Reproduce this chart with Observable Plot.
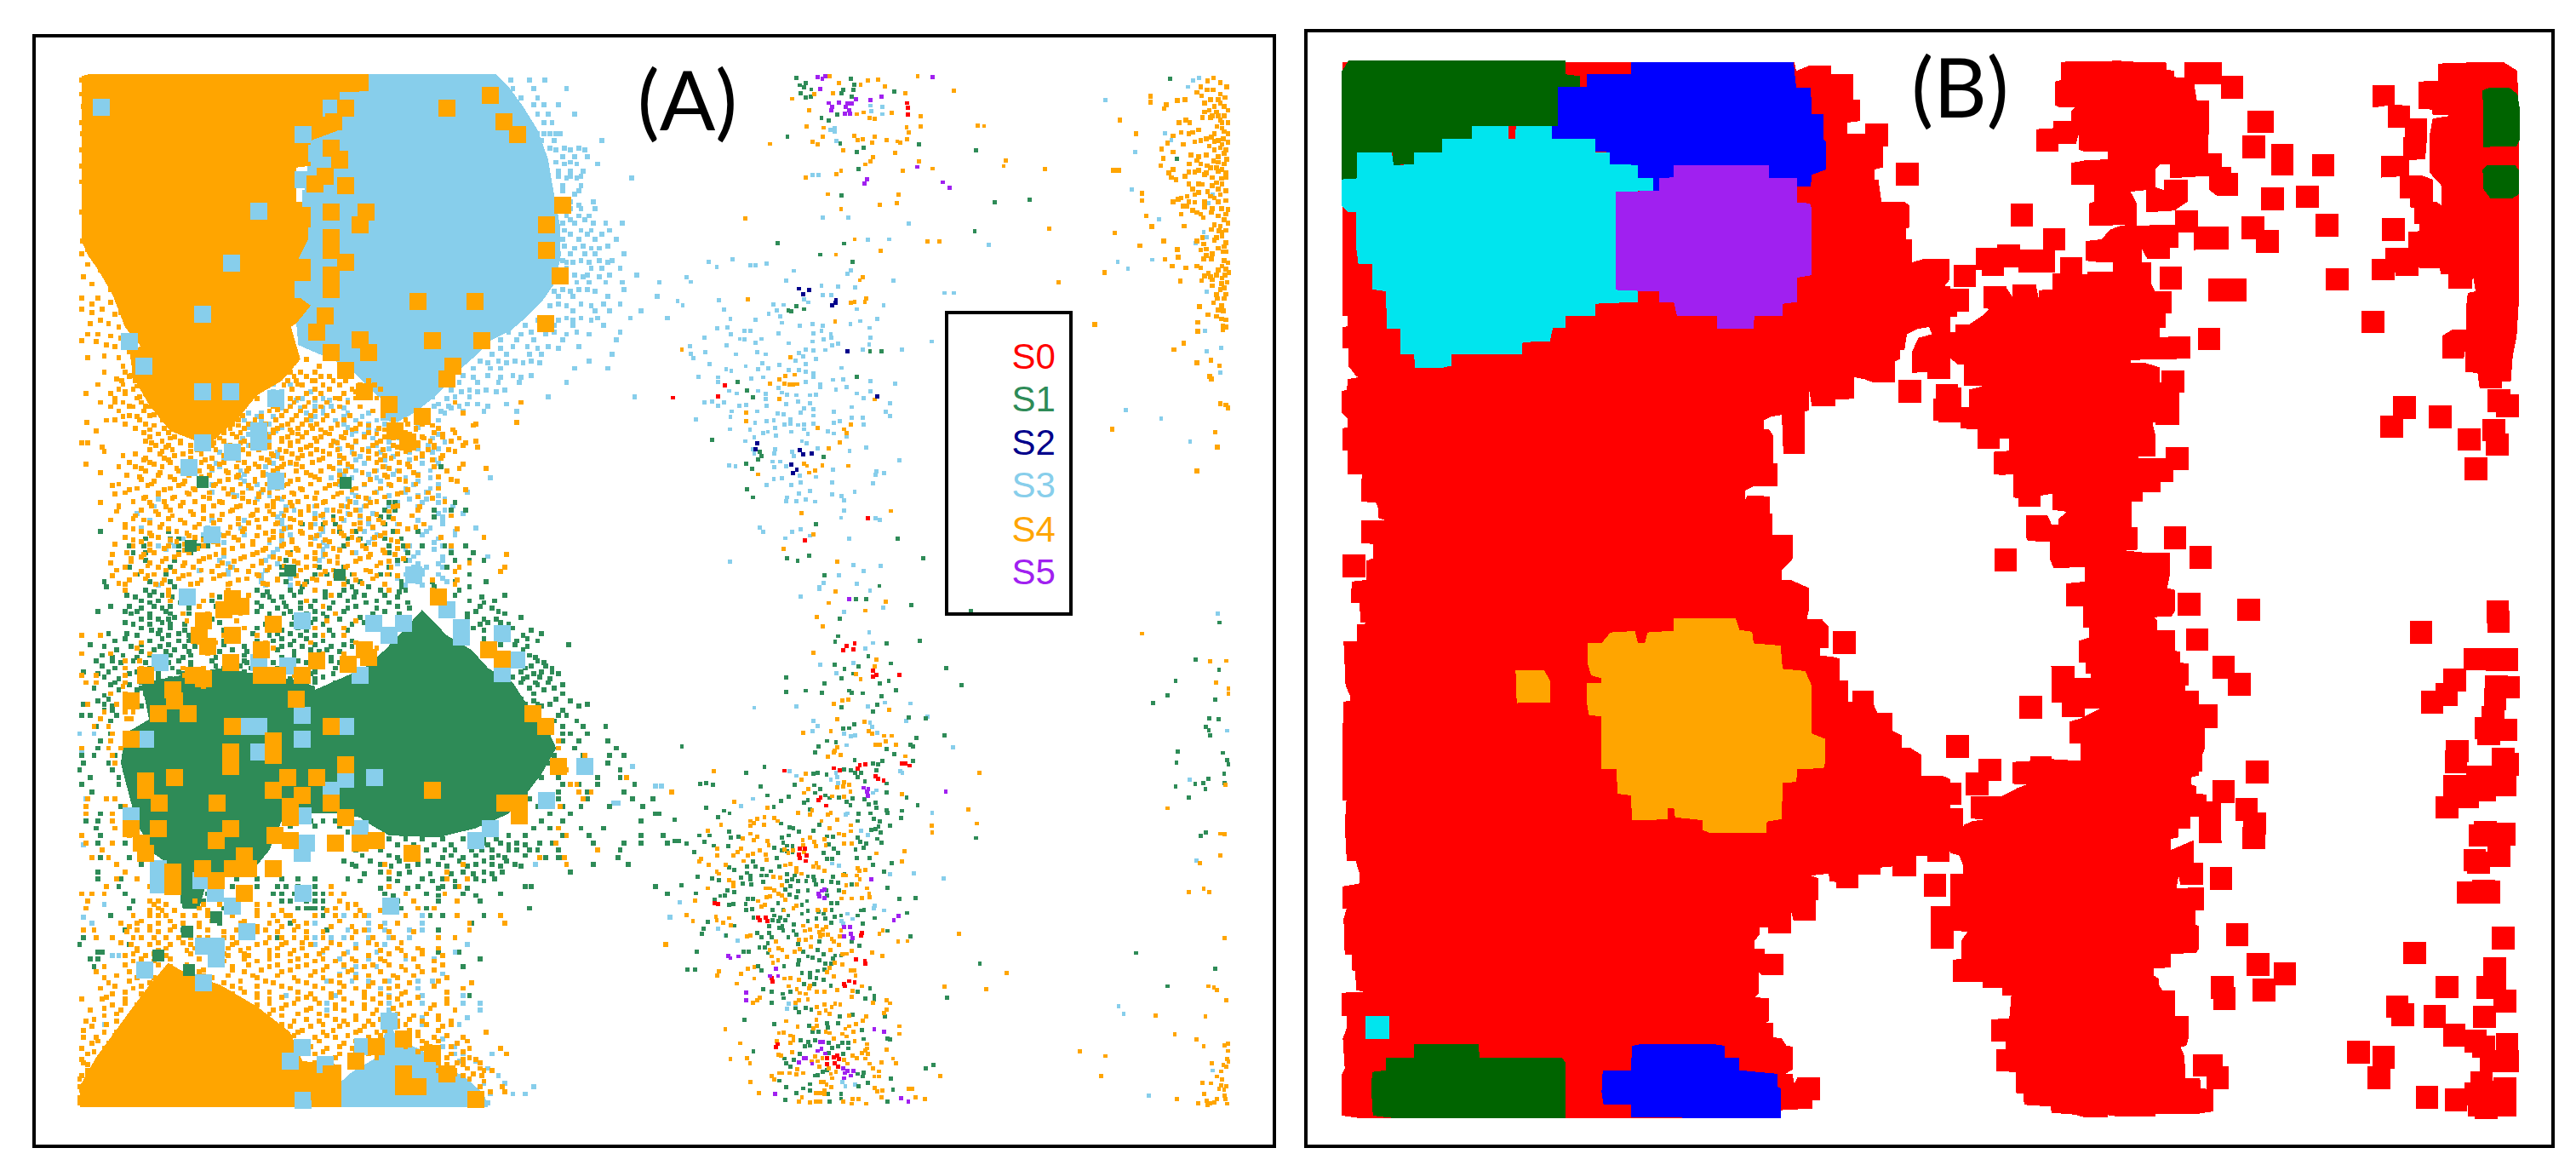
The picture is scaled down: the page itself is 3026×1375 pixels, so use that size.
<!DOCTYPE html>
<html><head><meta charset="utf-8">
<style>html,body{margin:0;padding:0;background:#fff}svg{display:block}</style>
<script src="https://cdn.jsdelivr.net/npm/d3@7"></script>
<script src="https://cdn.jsdelivr.net/npm/@observablehq/plot@0.6"></script>
</head><body><div id="chart"></div>
<script>
// Colours
const seriesA = ["S0","S1","S2","S3","S4","S5"];
const colorsA = ["#ff0000","#2e8b57","#00008b","#87ceeb","#ffa500","#a020f0"];
const legendY = [432,482,533,583,635,685];
const C = {red:"#ff0000",sea:"#2e8b57",navy:"#00008b",sky:"#87ceeb",orange:"#ffa500",purple:"#a020f0",dgreen:"#006400",blue:"#0000ff",cyan:"#00e5ee"};

// Picture regions the values were read in (origin and span, in page units; readings run 0..1568 across each region)
const regions = {
  a1:[30,30,760,660], a2:[30,690,760,670], a3:[790,30,720,660], a4:[790,690,720,670],
  b5:[1570,30,720,660], b6:[1570,690,720,670], b7:[2290,30,720,660], b8:[2290,690,720,670]
};

// ---------- Panel A: filled regions ----------
const a1Sky = [690,300,760,180,830,135,1140,135,1170,170,1205,225,1240,290,1265,370,1280,470,1295,560,1295,650,1280,720,1250,770,1215,810,1175,850,1130,875,1090,920,1060,950,1020,1000,985,1040,940,1080,900,1105,860,1100,860,1040,780,950,660,890,650,760];
const a1Orange = [135,140,150,135,830,135,830,182,760,185,760,290,690,320,690,390,655,395,655,490,690,490,690,580,660,650,690,650,690,715,655,720,655,750,690,780,655,830,600,870,540,920,440,960,340,945,290,910,240,840,210,750,175,680,150,640,135,600];
const a1OrangeBand = [250,900,640,830,665,930,620,990,560,1030,510,1100,440,1170,350,1130,300,1060,260,980];
const a2GreenRight = [870,170,920,110,960,60,1020,130,1080,170,1120,220,1180,260,1220,330,1265,390,1285,440,1250,510,1210,570,1170,620,1090,660,1000,685,880,680,820,640,760,580,700,520,690,470,720,400,760,330,800,240];
const a2GreenMid = [680,290,880,190,880,650,770,620,650,620,660,540];
const a2GreenLeft = [300,360,345,290,400,280,480,290,620,330,700,330,720,400,690,520,660,560,620,640,590,720,540,790,440,800,420,880,380,880,360,770,310,730,270,650,250,570,230,480,240,400];
const a2GreenTop = [280,260,470,220,640,250,700,270,720,400,300,370];
const a2OrangeLow = [130,1427,130,1370,170,1290,215,1220,260,1150,300,1090,345,1030,390,1060,470,1090,560,1150,640,1220,670,1300,765,1310,765,1427];
const a2SkyLow = [760,1427,760,1360,790,1330,850,1290,880,1190,900,1240,960,1270,1000,1310,1060,1340,1110,1390,1120,1427];

// ---------- Panel A: clumps (large squares) ----------
const a1ClumpOrange = [1020,230,1125,193,1158,268,1192,302,775,230,745,268,760,373,740,340,725,420,775,445,700,440,740,518,825,518,810,555,740,590,740,625,775,660,740,695,740,735,950,768,1088,768,985,877,1105,877,810,875,830,910,740,910,725,810,705,855,1035,950,1020,985,775,960,1262,555,1262,625,1295,697,1300,500,1260,830,820,1020,880,1055,960,1090,895,1130,925,1160];
const a1ClumpSky = [183,228,740,230,672,303,705,355,672,430,690,480,565,517,498,662,705,585,428,805,672,735,250,880,285,950,428,1020,497,1020,428,1162,395,1232,605,1040,565,1130,565,1160,500,1190,605,1270,450,1420,940,1530];
const a1ClumpGreen = [428,1272,775,1275,400,1450,760,1530,640,1520];
const a2ClumpOrange = [480,60,520,50,430,90,500,30,420,130,440,160,500,130,600,100,570,170,497,205,430,250,405,240,290,240,355,280,360,310,255,310,320,345,393,345,500,380,600,420,600,460,497,450,497,490,360,520,290,530,290,555,635,520,705,520,600,555,670,570,640,600,640,630,740,380,775,485,830,190,820,170,780,210,705,200,570,240,610,240,670,240,655,305,985,555,1160,590,1195,590,1195,625,1228,345,1260,380,1122,170,1155,195,1290,490,255,415,322,590,463,590,255,660,320,660,280,700,290,730,497,660,462,695,603,680,640,695,775,630,740,590,750,700,810,700,850,695,935,730,530,735,500,770,540,770,600,770,428,770,355,780,355,820,462,805,530,840,1000,25,915,1335,950,1370,915,1370,1090,1405,710,1385,740,1385,740,1335,800,1300,850,1260,1020,1335,985,1280,915,1240];
const a2ClumpSky = [390,25,1020,60,843,97,915,97,880,130,1055,110,1055,135,1155,125,1155,235,810,240,565,205,635,215,325,205,290,415,530,380,565,380,565,450,670,415,670,350,775,380,775,525,740,555,845,520,1262,585,672,625,810,660,1125,660,1090,695,680,700,670,730,255,625,320,770,320,815,425,805,460,840,500,875,672,840,535,945,430,985,462,985,462,1020,287,1050,430,1085,670,90,1190,197,1355,490,885,875,672,1407,640,1300,670,1262,725,1310,815,1260,880,1190];
const a2ClumpGreen = [462,905,390,945,320,1010,395,1050];

// ---------- Panel A: points in rows [reading y, x, x, ...] ----------
const a1SkyRows = [[150,1175,1220,1258],[175,1180,1230,1310],[200,1200,1240],[220,1230,1255,1290],[245,1240,1265,1330],[270,1255,1275],[300,1240,1270,1295],[320,1250,1280,1395],[345,1285,1320,1355],[365,1300,1330,1360],[385,1305,1335,1385],[405,1290,1320,1350],[425,1310,1335,1468],[445,1300,1345],[470,1330],[490,1320,1375],[510,1320,1345,1380],[530,1310,1340,1365],[550,1300,1330,1375,1405,1445],[570,1305,1345,1370,1415],[595,1300,1340,1380,1430],[615,1305,1350,1410],[635,1290,1320,1355,1380,1450],[655,1300,1345,1390,1420],[675,1310,1370,1395,1440],[695,1300,1330,1360,1415,1480],[715,1290,1335,1365,1405,1445,1535],[735,1300,1340,1360,1450],[755,1290,1325,1410,1530],[775,1290,1345,1400,1440],[795,1325,1380,1415,1490],[815,1260,1310,1345,1385,1465,1555],[835,1210,1280,1325,1400],[855,1170,1225,1280,1335,1440],[875,1150,1190,1230,1300,1430],[895,1180,1215,1265,1340],[915,1130,1165,1220,1250,1420],[935,1100,1145,1185,1225,1365],[955,1085,1125,1150,1330,1410],[975,1060,1120,1180,1225],[995,1050,1095,1145,1195,1310],[1015,1030,1075,1115,1160],[1035,985,1040,1075,1265,1475],[1055,1000,1070,1095,1165],[1075,950,1005,1060,1110,1190],
[1000,600,640],[1020,600,620,690],[1040,590,610,670,720,760,1020],[1060,600,640,700,740,990],[1080,540,570,680,720,780,830,1015],[1100,530,570,690,750,800,850,1000],[1120,540,570,620,780,830,950],[1140,540,590,790,820,880,930,1000],[1160,560,590,750,800,880,930,1015],[1180,500,760,830,880,950,1000],[1200,490,610,760,810,890,960],[1220,400,460,600,640,760,820,960,1000],[1240,400,450,520,610,760,800,850,900,980],[1260,520,600,740,790,850,920,980,1125],[1280,450,560,600,760,820,880,940,1000],[1300,450,500,570,790,850,920,970,1070],[1320,320,560,620,780,830,930,970,1015],[1340,310,630,700,770,820,880,950,1035],[1360,270,620,700,780,840,1000,1060],[1380,300,450,530,620,770,830,950,1010],[1400,280,440,520,630,720,840,980,1090],[1420,430,470,530,640,710,850,960,1040],[1440,350,440,480,590,620,720,830,990],[1460,340,610,720,760,920,990,1030],[1480,480,590,720,830,940,1010,1120],[1500,490,610,900,950,1000],[1520,420,490,580,930,960],[1540,570,640,900,940,1010],[1560,320,580,640,920,960]];
const a1SkyRows2 = [[300,1225,1255,1285],[340,1270,1305,1340],[380,1285,1320],[420,1290,1320,1345],[460,1300,1340],[500,1300,1340],[540,1320,1355],[580,1320,1360,1395],[620,1330,1370,1390],[660,1310,1325,1365,1410],[700,1280,1350,1390],[740,1280,1320,1380],[780,1270,1310,1370],[820,1240,1290,1325,1370],[860,1200,1260,1310,1365],[900,1150,1240,1290],[940,1120,1165,1205,1245],[980,1085,1150,1200],[1020,1055,1095,1140],[1060,1025,1050,1120],[1045,655,700,735,780],[1065,620,665,720,770,1030],[1090,560,600,700,770,815],[1110,545,590,770,830,870],[1130,555,605,800,850,900],[1150,525,575,770,840,905,985],[1170,490,540,780,850,910,975],[1190,470,610,790,860,930,985],[1210,480,590,800,870,930,990],[1230,470,580,780,870,930],[1250,530,580,770,830,890,950],[1270,530,610,780,860,950],[1290,540,590,800,860,920,980],[1310,510,590,800,880,950,1000],[1330,640,720,800,900,960,1000],[1350,650,730,810,870,1015],[1370,610,720,810,880,1010],[1390,620,700,830,900,1010],[1410,450,620,720,820,970,1040],[1430,380,620,700,840,1000],[1450,320,360,730,820,930,1010],[1470,600,720,800,950,1030],[1490,470,580,710,930,1010],[1510,500,940,970,1010],[1530,490,570,640,920,960,1000],[1550,570,630,910,950,1020]];
const a1OrangeFringe = [135,150,135,190,140,225,135,270,138,300,135,345,135,390,135,435,142,475,135,520,145,555,138,600,150,625,135,635,165,640,150,665,180,680,140,700,160,720,195,700,205,735,135,760,160,775,175,760,205,770,222,755,185,790,135,790,160,800,215,805,180,820,230,800,155,830,200,830,225,840,150,860,175,860,135,878,205,865,230,870,170,880,195,890,215,895,250,910,150,925,190,920,225,925,260,930,235,950,190,965,220,985,255,975,290,985,235,1000,270,1005,305,1000,340,990,145,1025,175,1000,205,1025,240,1020,275,1035,310,1020,345,1015,380,1030,180,1050,215,1050,250,1060,290,1060,325,1050,360,1060,395,1065,148,1105,170,1130,195,1100,235,1090,270,1090,310,1085,345,1090,385,1095,420,1105,460,1080,490,1100,530,1060,560,1040,590,1000,620,970,650,940,680,930,710,950,760,1000,800,1020,760,1040,700,990,660,1000,640,1040,610,1070,570,1090,1040,1050,1060,1080,1090,1110,1190,1105,1200,1050];
const a1OrangeRows = [[1114,310,380,450,515,620,690,755,830,905,985,1085],[1126,300,370,405,480,600,640,715,790,870,945,1035],[1138,320,385,500,580,660,735,850,930,1010],[1150,350,470,620,700,770,890,965,1050],[1162,135,150,305,375,455,520,640,755,850,950,1065],[1174,185,340,490,590,680,790,900,990,1095],[1186,190,330,400,510,630,720,830,920,1040],[1198,235,360,480,600,670,760,870,960,1010],[1210,285,345,435,515,585,710,860,985],[1222,145,310,385,470,555,625,655,780,925,1060],[1234,280,365,450,540,610,745,880,1050,1115],[1246,180,325,405,490,575,680,815,940],[1258,275,350,425,510,590,700,875,1000],[1270,310,385,470,555,640,760,920,1045],[1282,210,295,370,455,540,625,735,885],[1294,250,335,410,500,575,670,790,925,1065],[1306,215,320,395,490,565,650,755,900],[1318,285,355,445,525,610,700,825,985],[1330,180,300,380,475,555,640,720,835],[1342,225,340,430,510,600,685,780,890,955],[1354,220,315,400,495,590,665,760,880],[1366,265,355,450,545,625,715,810,935,1030],[1378,205,285,375,470,560,650,745,855],[1390,240,330,420,515,605,690,795,905,965],[1402,260,345,440,530,625,715,810,925,1045],[1414,300,390,490,580,670,765,870],[1426,240,320,410,505,600,690,790,845,1005,1110],[1438,280,365,455,550,645,735,900],[1450,260,345,430,525,620,710,815,925,1030],[1462,300,385,480,575,660,760,865],[1474,210,285,370,460,550,640,725,835,895,1165],[1486,255,340,430,520,615,700,810,915],[1498,205,300,385,475,570,660,755,860,1075],[1510,240,320,405,495,590,680,775,885,1050,1160],[1522,280,360,450,540,635,725,835,1040,1150],[1534,210,295,380,470,565,655,750,850,900],[1546,250,335,425,515,610,705,800,985,1045],[1558,240,315,400,490,585,675,770,870,1040]];
const a1OrangeRows2 = [[966,240,262,285,640,665,700,760],[978,250,275,650,680,715,735,790],[990,232,265,300,635,655,695,745,775,830],[1002,280,330,625,670,720,760,810,845],[1014,225,260,300,345,645,700,735,790,860],[1026,240,290,330,375,620,680,715,770,825],[1038,215,270,310,395,640,660,700,750,800,850],[1050,235,280,345,380,420,610,650,685,730,780,870],[1062,205,260,300,365,405,440,600,640,675,715,760,810,880],[1074,225,285,335,385,430,465,590,630,665,700,745,840],[1086,250,300,360,410,450,495,525,620,655,690,730,785,865],[1098,215,275,330,375,440,475,515,555,605,645,680,720,770,890,920],[1110,240,290,350,400,430,460,500,540,580,635,670,705,755,810,925,960],[1122,265,335,390,420,465,495,530,570,610,660,695,740,800,855,900,945,1000],[1134,285,345,395,445,480,520,560,600,645,680,725,775,830,880,920,990,1040],[1146,300,360,410,455,510,550,590,635,670,715,765,820,870,910,960,1010],[1158,290,330,375,430,480,530,570,620,660,705,745,800,860,920,980,1030,1090],[1170,315,345,400,450,495,545,590,640,690,740,780,840,890,950,990,1060],[1182,300,355,415,460,525,565,615,665,705,755,815,865,930,975,1025],[1194,265,325,380,425,495,540,595,645,690,735,795,850,900,960],[1206,290,335,400,450,510,570,620,660,720,770,830,885,945,1005],[1218,250,300,350,425,480,530,590,640,695,760,850,905],[1230,225,265,330,395,445,510,565,620,670,735,790,865,930,990],[1242,290,370,420,485,535,600,655,715,775,845,905,1020],[1254,245,320,395,445,515,575,625,690,760,870,950],[1266,280,360,425,490,555,605,660,710,780,835,905,1030],[1278,225,305,380,460,520,585,635,690,750,820,880,945],[1290,270,350,405,480,545,610,665,725,800,860,1000],[1302,240,320,390,445,525,590,645,705,765,845,910,975],[1314,290,360,430,505,565,625,680,745,805,870,950],[1326,260,335,410,470,540,600,660,725,785,850,1015],[1338,225,305,375,455,520,585,645,705,765,825,900],[1350,280,350,430,500,560,630,685,745,800,950],[1362,320,405,475,550,600,665,720,785,850],[1374,260,345,430,515,580,640,700,765,830,890],[1386,300,385,455,540,610,665,725,810,865],[1398,240,325,410,495,565,640,690,760,840,945],[1410,280,365,445,525,600,665,745,790,900],[1422,305,395,480,560,620,705,770,860],[1434,260,350,430,515,590,645,725,805,885],[1446,215,300,385,465,550,625,690,780,845],[1458,335,415,500,580,655,745,825,900],[1470,245,310,395,480,560,635,700,790,870],[1482,280,360,445,530,600,680,755,830],[1494,255,330,420,505,570,650,735,800,880],[1506,295,380,465,550,625,700,780,850],[1518,220,340,425,510,585,665,745,825],[1530,265,310,395,480,560,640,715,795,875],[1542,290,370,455,535,610,695,770,840],[1554,225,330,415,495,575,660,735,815]];
const a1GreenRows = [[1230,1005],[1330,1040,880,895],[1350,870,895,1065,990,1030],[1370,880,860,990,745],[1390,750,670,870,720],[1410,345,180,760,800,890,950],[1430,290,350,370,410,430,780,810,870,910],[1450,250,285,370,390,420,440,770,820,880,915,960,1015,1065],[1470,260,290,370,400,640,880,925,1085,1030],[1490,290,360,630,900,920,1040,1075,1110],[1510,250,350,620,640,710,770,880,1020],[1530,270,340,620,640,700,730,760,790,860,880,1075],[1550,190,300,350,630,680,780,810,910,985,1040,1115],[1565,195,360,670,790,830,910,990,1075]];
const a2GreenRows = [[5,290,560,640,700,770,860,920,1050],[20,245,300,330,575,650,760,820,870,1040,1160],[35,280,320,450,600,700,780,850,1075,1135],[50,205,250,310,350,460,570,630,690,800,900,1100],[65,175,240,270,340,560,640,700,770,870,1090,1145],[80,300,360,590,650,730,810,1070,1200],[95,240,330,470,610,690,820,1120,1150],[110,280,350,560,600,660,700,1085,1180],[125,200,245,320,370,550,610,640,1160,1250],[140,240,330,400,620,680,1110,1170,1215],[155,155,280,345,480,640,700,770,1150,1185,1315],[170,220,310,360,500,610,690,730,1205],[185,185,235,300,350,400,530,650,1220],[200,170,210,260,370,450,530,660,740,1205,1240],[215,185,320,400,460,520,720,1180,1225,1260],[230,140,200,270,370,470,530,700,1200,1250,1275],[245,190,320,460,540,720,1180,1215,1245],[260,145,215,280,340,470,520,700,750,1200,1235,1265],[275,165,280,320,490,540,600,740,1180,1220,1280],[290,290,330,440,500,560,610,770,1230,1300],[305,200,270,470,540,600,1200,1285],[320,140,190,300,1210,1240,1270,1360],[335,210,190,1180,1300],[350,135,155,220,1290,1310],[365,205,1260,1280,1335],[380,170,200,1240,1300,1350,1405],[400,205,1300,1360,1320],[420,180,240,1300,1340,1410],[440,240,175,1290,1330,1430],[460,165,135,215,1280,1350,1415,1450],[480,140,200,1265,1410],[500,130,210,240,1240,1300,1440],[520,225,155,1250,1290,1385,1440],[540,135,225,1220,1300,1340,1475,1385],[560,160,1210,1290,1340,1360,1450],[580,1220,1290,1360,1470,1520],[600,230,1240,1300,1345,1415,1495],[620,180,1210,1270,1320,1525,1535],[640,145,175,1250,1300,1490],[660,170,1230,1270,1345,1400],[680,180,1170,1210,1300,1365,1490,1545],[700,175,240,1110,1150,1190,1245,1275,1375,1450,1490,1555],[720,1040,1130,1170,1220,1440,1290],[740,180,250,900,1010,1060,1130,1160,1260,1300,1435,1290],[760,280,790,860,950,1000,1090,1130,1185,1375,1460],[780,175,860,930,1060,1110,1155,1320],[800,175,230,780,880,960,1010,1090,1135],[820,225,630,880,950,1010,1040,1210,1225,1525],[840,240,620,720,870,970,1060,1150,1555],[860,260,640,700,900,1000,1100],[880,250,680,700,910,970,1220],[900,205,260,700,720,980,1010,1110],[920,470,640,1080],[940,240,380,730,1000],[960,140,400,610],[980,130,300,250],[1000,175,185,320,1000,1050],[1020,155,175,320,1100],[1040,165,400,1060],[1060,390],[1120,1075]];
const a2GreenRows2 = [[10,310,585,665,725,800,905,1000],[25,265,355,470,590,620,725,795,900,1105],[40,300,375,560,625,665,745,825,880,925,1110],[55,280,330,395,470,610,665,735,780,850,930,1130],[70,255,300,350,395,590,625,680,720,840,905,1070,1160],[85,280,320,345,450,610,670,700,760,845,1110,1140],[100,260,300,350,385,580,645,720,790,1100,1170],[115,305,325,385,480,620,680,735,780,1110,1145,1225],[130,270,345,395,480,590,665,700,745,1205],[145,215,300,370,395,480,560,600,650,720,790,1190,1240],[160,190,255,325,385,410,530,620,670,740,790,1215],[175,280,340,395,470,535,650,710,760],[190,210,270,325,380,460,620,690,740,1235],[205,230,290,345,400,535,600,680,760,1255],[220,215,300,355,480,545,610,700,750,1210,1275],[235,175,250,320,380,490,510,690,745,1230,1290],[250,225,300,350,500,640,700,1205,1270],[265,205,250,310,360,445,570,620,680,1240,1300],[280,225,270,340,430,470,570,620,690,1255],[295,190,250,395,460,520,590,700],[310,175,250,300,340,440,580,640,1230,1320],[325,210,280,460,520,1250,1340],[640,690,720,750],[655,640,700,760],[670,780,820],[690,880,920,960,1010,1060,1110,1140],[705,830,900,940,990,1030,1075,1120,1170,1210],[720,800,860,920,970,1015,1080,1105,1190,1240],[735,815,880,945,1030,1090,1145,1210],[750,770,835,905,975,1050,1110,1165],[765,800,885,925,1020,1070,1150,1200],[785,820,905,980,1030,1085,1130],[805,810,900,985,1040,1110],[825,860,925,1000,1070],[845,890,1000,1090],[800,400,445,510,560,620,660,700],[820,380,400,500,560,610,660,700],[840,390,440,600,650,700],[860,380,430,620,680,720],[880,480,660,690,720]];
const a2OrangeRows = [[5,240,345,490,700,880,985],[20,345,450,540,740],[35,350,430,530,680],[50,420,510,720],[70,380,440,520,750],[90,390,510,600,730,800],[110,420,530,700,770],[130,135,180,420,480,560,720,770],[150,280,420,460,580,690,800],[165,270,430,560,600,850],[180,135,205,300,440,720,770,1110],[200,240,275,500,700,1150],[220,240,280,380,430,550],[240,135,170,240,300,385,440,590,650],[260,145,240,170,430],[270,235,360,430],[290,205,240,360],[300,240,255,350],[320,150,220,260],[340,190,240,260],[360,180,255,245],[380,165,200,1260],[400,210,240],[420,205,1290],[440,135,200,230,1290],[460,210,1355],[480,215,1280,1300],[500,1290,1310],[520,1455],[540,1320,1335],[560,1340,1370,1565],[580,150,195,215,1350],[600,145,240,1295],[620,145,210],[640,210],[660,215,1290],[680,135,250,1310],[700,145,210,1285],[720,185,1385],[740,160,200,1245,1305],[760,220,1310,1060,870],[780,240,880,1020],[800,220,270,1020,1070],[820,195,300,740,880,1050],[840,135,160,190,740,770,920,1015],[860,150,300,320,410,760,940,1045],[880,145,320,420,750,780,950,990],[900,300,340,440,500,600,640,700,800,920,1045,1150],[920,230,270,320,380,420,520,590,680,900,1075,1160],[940,140,165,270,300,350,440,510,580,650,820,1075],[960,170,210,260,310,370,420,480,550,620,680,1040,1000],[980,255,300,350,400,500,560,620,690,760,850,1550],[995,270,320,390,520,590,650,720,860,910,960],[1010,240,290,340,490,540,610,680,830,920,1010],[1025,260,310,480,560,640,700,750,800,870,990],[1040,190,280,350,500,590,660,730,820,910,950],[1055,170,250,420,530,620,700,780,860,960],[1070,190,270,310,450,560,650,720,800,900,1020],[1085,200,300,350,480,600,680,760,840,930,1080],[1100,180,260,400,520,640,720,800,880,1060],[1115,210,280,500,560,690,740,860,910],[1130,135,185,240,330,590,660,700,770,840,900,1020],[1145,210,270,560,630,750,820,910,990],[1160,155,230,300,600,680,770,850,1040],[1175,190,260,620,730,800,940,1000],[1190,145,220,290,650,710,770,830,900,960,1030],[1205,160,240,640,690,760,820,900,1010],[1220,190,220,660,720,800,850,950,1115],[1235,140,170,640,700,750,830,920,990,1060],[1250,160,200,630,680,770,910,970,1045],[1265,135,190,650,730,790,960,1000,1075,1150],[1280,150,210,700,760,830,980,1030,1165],[1295,135,180,1000,1060,1090],[1310,175,150,1020,1060],[1325,150,1000,1040,1130,1110],[1340,135,170,1010,1060,1105],[1355,145,1110],[1370,130,1100,1155],[1385,140,1125,1160],[1400,130,165],[1415,130,150]];
const a2OrangeRows2 = [[870,310,340,430,470,560,590,780,800],[885,300,330,360,440,500,560,620,730,810,860],[900,260,320,380,410,470,560,630,750,820],[915,280,350,450,530,610,650,760],[930,250,300,360,420,560,620,660,740,790,860],[945,245,320,385,480,560,610,680,720,800,880,940],[960,280,340,400,440,500,590,650,720,790,840,890],[975,230,320,380,440,510,580,630,670,740,830,910],[990,270,340,410,490,540,610,670,730,800,900,950,1000],[1005,260,310,400,480,530,590,640,710,770,880,960],[1020,280,350,420,530,590,660,720,790,860,940],[1035,240,320,390,470,540,610,680,770,840,880,1010],[1050,285,340,430,500,570,640,720,790,920,990],[1065,220,300,370,430,490,550,610,690,760,830,890,940],[1080,250,330,410,520,580,660,740,870,1000],[1095,215,280,370,420,500,560,620,700,770,830,900,990],[1110,240,330,450,530,590,660,760,820,920,1020],[1125,195,290,560,620,680,740,820,880,950],[1140,240,300,590,650,710,790,860,930,1020],[1155,190,270,340,620,690,750,820,890,980],[1170,220,290,350,590,660,710,840,900,970],[1185,165,250,310,680,750,800,860,930,1000],[1200,195,270,620,720,780,840,920,970,1030],[1215,140,240,670,745,810,870,930,1000],[1230,215,280,650,730,780,860,950,1020],[1245,175,240,710,800,850,960,1000,1070],[1260,210,690,760,830,920,980,1030],[1275,165,235,640,720,800,950,1000,1060],[1290,195,750,850,1020,1075],[1305,140,215,700,790,1000,1045,1100],[1320,185,1025,1070,1100],[1335,150,1040,1085],[1350,130,175,1075],[1365,155,175],[1380,135,150,190],[1395,145,175],[1410,165,185]];
const a2SkyRows = [[400,130,165],[450,135],[490,1470],[545,1525,1540],[580,145],[590,1425,1435],[680,135],[705,140],[760,1235],[870,190],[905,1560,140],[920,160],[900,770,830,960],[920,830,870,960,700],[940,780,830,870,930,960],[960,700,740,770,830,880,930,1000],[980,700,760,800,870,1070],[1000,720,780,850,1040],[1010,210,225],[1020,760,830,920,990],[1040,770,800,850],[1060,760,800,1010],[1080,730,790,830,880,950,985],[1100,800,860,950],[1120,630,750,880,960,1060],[1140,730,880,960,1060,1100],[1160,730,880,1100],[1180,880,960,1070],[1200,875,960,1050,190],[1220,880],[1240,1010],[1260,1010,1040],[1280,1040,1060,1130],[1300,1050,1090],[1320,1100,1120],[1340,1145],[1360,1110,1160],[1370,1230],[1390,1125,1180,1210],[1415,1120]];

// ---------- Panel A: individually read points, flat x,y lists ----------
const a3S0 = [599,215,601,229,601,247,132,1003,115,1033,0,1037,498,1373,337,1435];
const a3S1 = [315,145,456,147,324,165,339,160,335,172,354,177,327,187,340,200,353,197,463,163,462,178,436,178,432,187,566,183,457,198,420,247,380,256,399,264,293,308,428,327,488,339,630,331,471,352,776,347,474,399,431,473,823,491,912,485,772,573,267,605,437,607,376,638,459,658,315,782,295,793,303,796,336,790,504,907,533,908,165,993,471,979,190,1017,204,1035,100,1154,222,1188,227,1200,218,1210,386,1203,187,1221,202,1236,190,1292,205,1315,366,1390,575,1431,292,1485,319,1492,349,1478,640,1485,388,1533,528,1562,1271,147,1290,370];
const a3S2 = [323,733,349,736,334,749,417,765,416,772,408,779,447,908,523,1034,215,1164,212,1180,325,1183,334,1195,355,1192,302,1223,317,1238,307,1247];
const a3S3 = [1330,152,1346,145,1317,170,1106,207,1258,299,1275,318,1182,351,1173,456,1380,470,1370,495,1244,540,1358,575,1365,590,1338,605,1226,652,1138,659,1164,677,1361,851,1366,742,1366,908,1403,898,1400,967,1158,1072,1249,1096,1323,1159,506,222,535,225,508,238,535,246,403,290,413,285,414,296,419,320,358,416,372,415,383,535,449,534,604,552,498,596,554,595,808,610,92,658,152,651,112,673,198,668,211,668,240,663,310,683,35,700,46,714,289,711,455,682,446,692,564,711,380,725,422,727,466,730,694,745,718,745,384,751,405,750,335,762,346,771,117,765,12,768,25,780,257,776,283,778,265,793,131,792,245,803,275,810,278,828,147,817,211,819,470,790,539,780,523,817,454,831,479,823,325,837,357,831,384,837,113,843,503,842,380,851,140,841,183,850,198,850,270,857,148,860,80,870,171,873,183,875,227,873,360,858,404,860,405,870,358,880,386,875,506,870,662,880,297,885,212,884,138,890,43,893,360,905,423,887,407,890,502,888,340,902,390,904,486,902,586,903,216,910,83,910,162,916,238,916,45,915,52,927,323,912,333,922,365,928,314,933,340,943,228,941,273,945,93,944,186,949,431,954,244,955,136,957,149,963,218,958,296,960,322,960,340,965,360,970,66,979,115,980,200,984,231,980,360,980,410,987,435,985,340,993,376,1000,506,991,569,998,115,993,376,1008,445,1008,270,1010,143,1018,417,1015,218,1018,316,1030,238,1027,163,1025,278,1023,292,1028,350,1030,365,1028,471,1025,505,1020,488,1038,130,1050,238,1040,100,1048,80,1051,115,1060,320,1048,350,1053,556,1053,170,1060,188,1057,240,1060,290,1055,458,1063,335,1066,360,1070,150,1075,215,1075,267,1081,283,1083,327,1078,412,1077,545,1077,555,1089,147,1090,58,1098,300,1097,360,1087,458,1092,485,1092,240,1103,258,1100,210,1107,300,1110,320,1113,336,1112,360,1110,427,1102,412,1108,488,1112,197,1127,146,1125,262,1122,286,1112,230,1135,243,1132,303,1132,336,1125,397,1130,412,1137,345,1138,444,1145,263,1143,185,1158,208,1148,330,1158,342,1165,370,1178,495,1176,205,1180,262,1180,452,1185,305,1188,208,1192,260,1192,310,1200,275,1215,255,1215,579,1211,143,1225,160,1228,290,1228,410,1238,260,1230,520,1243,540,1248,518,1252,325,1255,258,1264,278,1261,365,1258,408,1273,511,1275,240,1281,302,1281,326,1273,292,1315,322,1305,350,1297,465,1300,408,1306,432,1312,290,1325,316,1325,340,1320,364,1327,437,1323,437,1352,430,1372,518,1373,530,1377,223,1400,230,1411,305,1411,326,1405,350,1422,287,1429,451,1431,146,1494,462,1503,532,1506,487,1520,425,1533,386,1553,471,1556,375,1565];
const a3S4 = [626,141,400,140,425,160,480,163,498,152,525,150,543,168,410,188,362,190,305,203,595,187,719,180,348,236,470,246,488,241,503,256,516,259,560,243,634,251,342,281,385,284,598,283,604,297,633,281,780,278,796,279,463,307,485,316,473,318,517,308,510,325,546,318,574,322,582,325,599,316,358,323,370,330,384,309,249,329,435,347,568,354,512,366,506,377,492,386,630,377,664,398,588,403,430,403,418,413,340,423,397,469,577,470,572,494,529,498,430,510,185,537,852,375,846,391,951,399,962,565,465,595,652,601,682,601,532,628,417,638,486,701,478,709,987,715,191,762,495,760,491,769,465,769,455,773,415,824,23,902,301,925,288,977,273,985,311,973,285,997,298,1000,307,1000,318,999,249,997,272,1040,516,1042,187,1079,187,1103,455,1112,371,1122,438,1125,444,1135,426,1162,399,1179,217,1251,336,1222,343,1227,382,1225,449,1227,364,1241,348,1246,558,1353,328,1358,360,1418,283,1458,421,1495];
const a3S4Right = [1383,145,1400,158,1350,170,1368,153,1417,170,1340,185,1367,178,1382,178,1400,190,1352,195,1412,200,1310,205,1290,208,1222,196,1222,212,1262,220,1257,230,1360,215,1385,225,1400,215,1420,235,1372,235,1390,240,1410,250,1355,255,1375,255,1400,262,1420,270,1312,262,1322,270,1143,262,1405,285,1385,300,1420,300,1345,290,1330,297,1300,297,1320,300,1185,300,1280,306,1265,327,1365,315,1408,315,1350,320,1385,322,1420,325,1335,323,1372,335,1400,340,1250,343,1280,352,1415,345,1345,365,1365,360,1395,365,1254,370,1248,390,1340,375,1383,376,1417,372,1321,385,1367,390,1410,385,1280,400,1127,403,1140,403,1345,403,1365,410,1395,405,1415,410,1268,410,1320,408,1335,408,1360,415,1275,423,1287,429,1380,423,1403,425,1390,437,1415,423,1355,442,1368,462,1395,455,1415,460,1330,455,1200,467,1200,487,1315,475,1345,465,1385,480,1279,490,1292,484,1320,490,1335,492,1395,490,1415,487,1305,503,1315,503,1360,490,1403,510,1420,512,1330,515,1340,520,1380,510,1300,525,1350,525,1378,520,1211,530,1357,535,1415,525,1385,555,1400,558,1420,550,1308,558,1225,559,1378,568,1397,572,1415,570,1130,577,1405,585,1385,597,1415,605,1358,608,1194,613,1256,600,1290,623,1350,625,1365,622,1415,630,1380,635,1408,630,1292,645,1259,651,1358,650,1378,650,1410,655,1420,660,1277,670,1340,670,1312,675,1350,675,1415,678,1104,688,1422,688,1360,697,1375,700,1390,695,1405,703,1418,715,1298,712,1380,708,1403,718,1400,735,1390,750,1415,748,1393,760,1383,772,1403,780,1347,783,1395,792,1408,795,1369,805,1403,817,1342,827,1407,837,1415,840,1079,833,1343,851,1407,847,1307,885,1281,903,1340,940,1376,932,1398,948,1373,977,1378,985,1400,1053,1415,1057,1420,1065,1124,1125,1387,1133,1393,1175,1341,1241];
const a3S4Right2 = [1375,205,1395,205,1410,225,1360,240,1380,250,1395,250,1405,270,1392,280,1410,295,1395,320,1378,310,1405,330,1385,345,1410,355,1395,380,1375,395,1390,395,1405,400,1350,385,1405,440,1380,445,1345,440,1400,470,1375,475,1360,505,1395,530,1410,540,1405,575,1390,590,1410,615,1395,620,1365,640,1405,670,1395,680,1412,695,1380,725,1410,730,1352,710,1370,690,1340,600,1355,590,1410,760,1390,810,1415,820,1335,470,1320,440,1300,480,1310,420,1325,360,1305,330,1295,270];
const a3S5 = [370,143,382,148,390,140,376,175,398,215,408,225,424,213,405,235,447,217,457,217,442,226,468,204,505,206,534,197,664,143,440,244,453,244,450,236,625,393,497,427,490,440,690,436,707,451];
const a4S0 = [445,159,465,153,435,171,461,168,512,227,521,238,512,243,580,238,285,502,411,495,426,500,478,487,492,485,472,497,586,482,595,482,605,488,518,518,525,525,539,529,378,575,373,583,392,598,324,717,338,717,323,732,325,742,342,735,340,750,107,865,116,869,217,906,222,912,238,905,241,915,483,948,481,955,468,1020,491,1025,492,1032,437,1088,440,1094,450,1080,465,1083,253,1072,254,1082,267,1253,264,1261,395,1292,394,1309,412,1290,420,1285,424,1295,413,1305,422,1316];
const a4S1 = [469,31,494,30,610,47,427,85,423,132,415,148,547,152,631,145,500,187,558,207,414,210,475,215,439,222,461,235,699,220,432,248,289,245,387,263,552,255,530,262,739,267,339,282,451,282,289,285,381,288,458,288,486,289,571,281,534,298,522,320,432,328,512,340,603,355,647,358,464,375,450,385,435,387,395,420,417,423,373,435,364,452,547,442,567,457,607,430,615,435,623,412,695,405,23,435,465,472,535,475,614,475,234,492,512,482,525,484,437,498,456,500,188,508,466,508,481,507,520,500,360,510,371,508,393,512,472,520,70,539,85,536,103,540,225,546,311,541,362,542,491,531,546,537,377,553,363,563,547,561,241,570,297,573,389,570,400,577,425,575,460,578,598,575,277,585,345,583,335,590,445,587,490,580,519,590,626,596,85,603,258,601,350,608,454,596,501,595,520,603,547,610,585,612,130,612,145,619,475,620,506,619,549,618,116,629,5,637,276,647,473,640,514,635,583,631,530,642,375,650,299,657,308,660,555,653,144,670,323,670,360,667,526,655,508,665,518,662,531,671,67,680,93,680,148,685,167,683,279,686,296,680,395,682,410,683,473,685,522,689,4,695,15,695,34,702,80,697,282,700,479,698,494,703,533,700,105,708,141,710,259,713,278,720,292,708,306,709,398,705,412,716,467,718,487,714,55,725,292,723,306,725,386,727,422,727,265,742,470,742,395,745,408,745,559,755,503,742,512,761,204,751,189,765,212,766,143,768,157,775,228,773,272,766,251,778,189,783,199,790,226,790,240,790,64,793,174,795,101,798,117,803,143,803,198,800,292,787,311,790,345,792,360,793,410,793,439,785,540,780,22,817,178,813,201,815,231,807,292,805,305,800,320,805,341,805,361,803,382,805,405,808,423,810,458,815,549,824,58,839,140,830,156,836,132,845,287,828,300,820,320,833,345,830,365,815,393,830,424,830,121,846,192,855,204,855,299,843,315,850,343,860,395,845,107,856,580,855,620,851,143,870,155,869,186,869,269,865,330,870,405,865,420,865,187,885,203,882,254,884,282,885,345,887,406,885,480,886,489,885,599,893,259,900,275,905,295,900,330,895,372,890,386,895,413,903,430,900,473,900,517,907,206,905,255,912,270,915,288,912,345,915,367,908,390,908,90,917,280,930,309,925,405,920,486,922,156,928,78,937,246,930,272,933,74,950,216,948,246,948,282,940,308,942,315,953,548,942,136,955,227,960,252,960,295,960,608,958,243,975,320,978,375,972,458,972,221,988,235,988,477,983,61,999,180,1000,194,1000,243,1003,334,1000,370,995,385,1007,415,1010,430,1010,345,1012,358,1015,322,1022,375,1022,409,1018,785,1033,390,1032,405,1032,218,1040,226,1050,284,1040,320,1035,37,1049,56,1049,370,1052,330,1058,350,1058,388,1048,350,1070,367,1072,385,1076,335,1088,362,1088,404,1092,230,1102,504,1100,253,1110,281,1115,300,1110,473,1110,515,1120,283,1127,493,1128,515,1130,701,1125,253,1140,340,1153,323,1165,313,1155,354,1158,426,1177,459,1172,543,1177,183,1187,259,1199,349,1203,395,1195,423,1195,397,1207,358,1220,372,1220,483,1215,327,1243,364,1243,488,1239,549,1238,555,1241,398,1250,408,1263,449,1250,347,1247,338,1259,350,1258,433,1250,423,1260,206,1273,324,1280,398,1277,436,1280,448,1265,285,1293,289,1305,310,1297,300,1315,667,1310,647,1319,395,1325,364,1340,384,1330,473,1335,487,1332,486,1342,370,1338,272,1354,558,1348,351,1363,334,1375,289,1372,498,1359,474,1370,563,1379,315,1388,351,1380,397,1390,430,1390,288,1406,401,1411,430,1403,549,1411,1338,196,1397,224,1286,256,1266,295,1388,306,1229,316,1372,358,1396,360,1364,382,1371,390,1374,404,1292,450,1407,453,1288,479,1417,473,1421,485,1410,511,1369,524,1286,546,1336,539,1356,535,1411,535,1362,553,1320,575,1364,672,1350,681,775,687,1184,1003,1388,1046,1266,1094,762,63,1398,95];
const a4S3 = [375,2,504,7,326,23,437,66,538,53,502,122,512,151,492,167,376,210,461,206,419,234,208,329,316,326,498,326,542,315,608,317,359,366,370,379,504,369,597,366,652,353,510,382,357,393,438,400,455,407,466,405,523,397,444,432,717,437,299,503,316,516,404,526,417,507,421,520,423,536,581,503,587,508,520,556,512,563,205,579,175,600,447,619,442,623,663,617,481,667,499,678,407,757,424,763,555,786,616,784,692,798,17,863,517,873,514,880,540,886,447,895,459,909,432,915,436,922,115,936,135,955,165,969,297,1142,292,1156,313,1150,1394,71,1417,392,1322,526,1339,748,1140,1149,1153,1170,1381,1326,1217,1394,433,1358,441,1369,466,1364];
const a4S4 = [399,41,416,9,544,38,493,62,368,80,384,106,360,178,521,197,517,216,468,237,480,251,433,308,448,307,411,319,554,335,420,361,490,368,501,393,404,394,334,398,509,401,540,406,560,406,518,430,530,430,545,422,570,430,420,437,413,447,411,452,397,463,429,458,595,462,105,503,340,510,328,527,437,533,450,540,421,548,436,546,347,553,454,559,335,563,437,573,408,572,585,567,157,587,241,603,356,611,321,618,351,622,404,618,397,623,756,609,234,629,260,631,216,635,199,640,207,645,380,640,420,636,267,640,199,653,233,650,455,652,777,647,662,653,663,671,89,667,123,650,401,660,455,668,425,675,437,678,199,675,178,688,215,684,207,692,241,695,350,685,332,692,388,690,362,697,245,706,365,710,333,707,438,703,458,702,174,716,113,716,285,718,307,720,391,706,223,720,165,725,114,734,155,735,204,730,238,733,192,735,295,727,335,725,520,729,592,723,72,745,68,752,92,760,180,750,239,747,135,760,288,762,300,758,367,755,360,765,372,768,316,770,329,785,585,752,1401,735,112,780,117,785,143,802,154,810,257,793,275,795,315,780,388,777,473,770,477,777,493,775,435,788,443,790,470,790,478,800,155,820,90,825,238,825,248,825,260,830,270,840,278,845,278,817,443,817,470,815,497,825,502,840,437,835,503,850,484,851,458,853,432,853,240,850,248,848,288,857,57,859,235,870,218,860,227,875,316,872,308,880,371,885,390,884,284,886,34,898,110,903,51,915,112,912,143,907,128,920,148,926,333,928,368,930,383,938,392,932,338,942,350,938,375,945,430,940,537,940,384,952,199,954,190,957,354,959,376,957,396,952,528,951,732,951,426,957,339,967,406,965,264,972,322,966,412,971,576,971,600,970,424,980,270,990,247,995,280,995,325,992,353,985,403,995,457,997,311,1000,510,1001,536,1011,292,1013,252,1012,269,1022,256,1030,434,1007,444,1005,413,1030,433,1035,208,1042,191,1046,400,1043,118,1053,455,1050,464,1050,114,1065,174,1060,395,1055,467,1065,854,1057,208,1073,285,1073,301,1072,323,1077,164,1087,350,1092,412,1068,483,1094,297,1094,317,1102,348,1100,388,1110,368,1110,420,1105,459,1107,694,1096,802,1103,325,1113,340,1115,215,1133,223,1125,204,1140,345,1130,322,1132,458,1124,547,1133,512,1139,556,1141,314,1140,387,1145,415,1142,428,1145,406,1152,368,1152,391,1160,374,1167,401,1171,494,1178,547,1158,540,1167,451,1175,367,1187,290,1190,485,1188,579,1204,134,1213,319,1205,368,1203,359,1210,450,1204,469,1199,441,1211,271,1223,300,1230,283,1221,308,1233,400,1223,391,1220,433,1225,445,1232,461,1220,579,1225,308,1243,412,1238,265,1245,465,1245,300,1250,497,1253,172,1251,497,1265,546,1269,305,1276,492,1270,483,1277,270,1283,277,1285,459,1284,498,1280,364,1287,382,1292,147,1295,189,1291,492,1293,563,1293,470,1291,197,1306,355,1300,370,1300,437,1297,503,1307,534,1303,571,1305,375,1315,447,1307,399,1320,512,1320,318,1323,271,1333,279,1333,299,1333,333,1333,316,1336,404,1335,417,1330,527,1328,252,1341,260,1350,407,1347,515,1342,527,1342,199,1358,379,1358,385,1358,393,1365,405,1372,603,1377,613,1377,516,1373,522,1384,536,1381,220,1387,387,1380,365,1388,376,1387,388,1390,330,1400,533,1400,621,1400,644,1404,351,1414,365,1412,376,1412,323,1411,435,1412,460,1405,475,1405,494,1417,458,1417,1200,125,1374,201,1416,200,1389,260,1421,277,1421,291,1414,541,1266,605,1400,675,1412,677,1401,735,1348,755,1358,827,1372,835,1320,836,784,507,1412,962,1370,1094,1384,1097,1391,1105,1416,1133,1235,1175,1362,1177,1284,1226,1340,1241,1358,1260,1412,1257,1420,1252,1420,1272,1041,1273,1107,1286,1417,1295,1421,1302,1378,1305,1408,1310,1415,1315,1095,1341,1402,1328,1391,1342,1405,1350,1355,1360,1376,1361,1403,1367,1415,1370,1397,1377,1410,1378,1359,1391,1411,1395,1392,1405,1365,1408,1413,1405,1290,1404,1385,1413,1375,1415,1343,1416,1368,1420,1417,1417,684,1341];
const a4S5 = [451,31,488,549,497,560,500,553,498,571,698,559,508,801,388,828,381,832,373,841,388,851,375,847,577,901,565,912,438,932,453,931,437,958,455,950,459,962,142,1011,147,1017,167,1012,264,1047,269,1066,249,1066,188,1111,187,1132,515,1213,540,1219,376,1248,383,1248,380,1266,370,1272,389,1279,335,1292,340,1292,323,1303,356,1307,435,1320,447,1327,461,1327,440,1333,456,1340,438,1347,261,1390,583,1401,602,1412];

// ---------- Panel B: filled regions ----------
const b5Red = [15,100,1170,100,1175,125,1210,110,1265,110,1265,135,1320,135,1320,205,1338,205,1338,265,1305,270,1305,300,1352,300,1352,273,1410,273,1410,335,1397,335,1397,395,1375,400,1375,428,1385,428,1393,490,1450,490,1465,500,1465,562,1455,565,1455,596,1470,596,1470,660,1500,650,1566,650,1566,710,1555,725,1568,725,1568,985,1510,985,1510,965,1472,968,1472,908,1487,870,1522,860,1515,840,1485,845,1458,860,1452,903,1440,905,1440,930,1428,935,1428,994,1370,994,1348,985,1324,980,1324,1040,1275,1042,1275,1060,1215,1060,1207,1010,1207,1073,1197,1075,1197,1195,1142,1195,1138,1085,1110,1090,1092,1100,1092,1125,1105,1125,1115,1140,1117,1220,1126,1220,1126,1283,1068,1283,1045,1295,1045,1320,1050,1310,1108,1312,1108,1360,1115,1360,1115,1420,1167,1420,1167,1485,1137,1520,1137,1545,1160,1545,1208,1568,38,1568,38,1550,76,1545,76,1492,92,1485,92,1445,63,1443,63,1380,125,1380,105,1372,105,1345,100,1330,63,1327,63,1265,65,1250,28,1250,28,1185,15,1185,15,1122,28,1120,28,1095,13,1080,13,1018,25,1015,28,985,55,980,48,975,30,950,30,900,15,900,15,840,28,838,28,810,15,808,15,625,15,505];
const b5Green = [13,125,30,97,585,97,585,135,622,140,622,170,565,170,565,278,345,278,345,315,270,315,270,352,198,352,198,385,162,385,162,422,143,422,143,352,52,352,52,425,13,428];
const b5Cyan = [13,428,52,425,52,352,140,352,145,388,162,388,198,385,198,352,270,352,270,315,345,315,345,278,438,278,440,315,456,315,458,278,550,278,550,315,660,315,660,352,697,352,697,385,770,388,770,425,808,425,808,460,770,460,770,770,660,775,660,810,585,810,585,843,552,843,545,880,475,882,473,915,292,917,292,948,265,955,200,955,197,915,162,915,162,845,128,845,125,740,90,735,90,665,55,665,50,625,50,520,28,518,13,503];
const b5Blue = [752,100,1168,100,1175,172,1212,172,1215,245,1245,245,1245,315,1252,325,1252,400,1215,415,1212,448,1177,448,1177,425,1105,423,1105,388,862,388,862,422,825,425,825,460,808,460,808,425,770,425,770,388,697,385,697,352,660,350,660,315,550,315,550,278,565,278,565,170,640,170,640,135,752,135];
const b5Purple = [862,388,1105,388,1105,423,1177,425,1177,492,1210,495,1215,510,1215,695,1177,702,1177,770,1140,775,1140,808,1068,810,1065,845,973,845,973,810,870,808,862,772,825,772,825,740,722,738,714,735,714,462,825,460,825,425,862,422];
const b6Red = [37,0,1208,0,1208,58,1202,85,1240,85,1258,105,1258,165,1235,165,1235,185,1275,190,1287,195,1287,253,1308,253,1308,312,1318,312,1318,282,1373,282,1373,320,1382,342,1420,342,1420,392,1445,405,1445,438,1468,440,1495,458,1495,515,1548,515,1568,525,1568,725,1566,752,1510,752,1510,737,1482,737,1482,792,1422,792,1422,765,1390,768,1390,788,1333,788,1333,825,1277,825,1277,808,1260,805,1258,785,1212,790,1232,798,1232,858,1225,858,1225,914,1168,914,1162,890,1162,950,1104,950,1104,932,1082,932,1082,950,1068,970,1068,992,1095,992,1095,1004,1143,1004,1143,1064,1088,1064,1080,1056,1080,1113,1070,1125,1106,1127,1106,1190,1096,1195,1117,1195,1117,1235,1137,1237,1150,1258,1167,1260,1167,1322,1148,1335,1165,1335,1170,1362,1178,1344,1235,1344,1235,1407,1217,1407,1217,1430,1135,1435,1135,1457,60,1457,13,1450,13,1335,20,1320,15,1238,25,1208,26,1175,13,1175,13,1112,68,1110,50,1105,46,1052,38,1050,38,1008,20,1008,17,908,25,880,15,880,15,820,57,812,57,782,48,750,25,750,20,650,24,585,15,583,15,380,17,312,33,310,33,295,22,267,17,147,52,147,52,100,85,97,60,95,58,42,37,42];
const b6Orange = [862,82,1020,82,1030,115,1062,120,1066,152,1135,158,1140,222,1198,228,1215,270,1215,400,1250,415,1250,475,1245,495,1178,498,1175,533,1140,535,1138,635,1100,642,1098,672,952,672,936,665,936,638,865,630,862,604,845,604,845,636,755,638,752,570,717,565,716,497,677,497,677,352,645,350,640,320,640,260,677,260,677,248,650,240,642,210,642,152,678,150,700,122,762,118,770,150,788,150,795,122,862,117];
const b6OrangeSmall = [457,225,530,225,545,255,545,315,460,316];
const b6Cyan = [74,1177,133,1177,133,1240,74,1240];
const b6Green = [198,1253,362,1253,365,1290,575,1290,585,1305,585,1457,150,1457,92,1450,88,1380,90,1330,125,1325,125,1290,198,1290];
const b6Blue = [755,1258,780,1253,962,1253,993,1258,993,1290,1028,1290,1028,1325,1128,1335,1128,1370,1135,1375,1135,1457,752,1455,752,1420,682,1420,677,1385,680,1325,752,1325];
const b7RedTop = [285,100,435,97,495,102,553,102,555,122,573,125,573,142,600,145,600,100,695,100,695,138,750,138,750,202,693,202,693,163,625,163,632,208,664,208,664,302,660,302,660,355,695,355,695,393,720,393,720,410,738,410,738,473,682,473,664,458,664,420,635,420,562,425,562,385,540,385,527,398,527,450,548,458,548,430,608,430,608,490,575,515,502,520,502,458,462,462,478,495,478,557,420,555,412,558,355,558,355,495,370,490,370,443,311,443,311,382,345,375,403,372,403,350,342,350,330,345,330,302,322,330,277,330,277,350,220,350,220,288,265,285,265,265,311,265,311,238,320,228,282,228,270,222,270,155,285,150];
const b7RedBody = [410,568,437,557,577,555,577,515,634,515,634,560,712,560,712,622,625,625,625,575,585,575,585,618,562,618,562,650,505,650,490,620,490,660,516,660,516,720,525,740,568,740,568,802,553,802,553,842,536,842,536,868,616,865,616,928,462,932,462,940,500,940,536,952,536,995,542,995,542,960,600,960,600,1022,586,1022,586,1113,527,1113,527,1105,518,1105,525,1138,525,1200,482,1200,482,1205,552,1205,552,1175,610,1175,610,1238,571,1238,571,1272,540,1272,540,1300,494,1300,494,1328,465,1328,465,1398,480,1398,480,1460,422,1460,490,1468,505,1470,562,1470,562,1535,556,1568,298,1568,298,1555,346,1550,346,1510,265,1512,255,1485,255,1438,200,1437,194,1425,194,1365,250,1365,260,1390,278,1390,278,1375,300,1355,262,1350,262,1305,233,1310,233,1342,176,1342,176,1318,162,1315,162,1250,132,1253,113,1250,113,1188,152,1185,152,1150,128,1150,128,1180,70,1180,70,1125,28,1123,28,1062,48,1062,48,1015,83,1005,35,1003,35,945,20,945,0,925,0,855,15,855,15,832,50,832,83,808,100,790,85,785,85,727,143,727,160,755,160,722,220,722,228,765,228,737,262,735,262,690,281,690,281,645,338,645,338,692,352,692,352,685,418,685,418,660,388,660,348,655,348,600,388,595];
const b7RedRight = [1248,105,1325,102,1418,102,1452,125,1456,340,1456,710,1455,780,1450,865,1440,920,1435,992,1412,992,1412,1010,1355,1010,1350,968,1318,965,1318,905,1315,927,1259,927,1259,865,1285,847,1320,847,1320,790,1325,745,1345,740,1338,697,1335,733,1275,733,1275,692,1255,692,1254,675,1200,675,1198,635,1198,697,1140,697,1138,680,1138,710,1080,710,1080,650,1115,650,1115,618,1172,618,1172,575,1202,572,1202,553,1187,553,1187,508,1176,505,1176,480,1150,480,1150,420,1104,423,1104,362,1160,362,1160,310,1163,310,1163,283,1120,283,1120,222,1082,228,1082,165,1138,165,1138,220,1178,222,1178,258,1220,258,1220,322,1216,372,1174,374,1174,416,1205,416,1235,428,1235,490,1245,490,1257,500,1257,445,1228,410,1228,300,1235,258,1285,250,1233,247,1233,233,1198,232,1198,155,1248,153];
const b7Green1 = [1363,180,1378,173,1432,173,1452,190,1457,225,1457,320,1450,335,1365,338];
const b7Green2 = [1375,388,1445,388,1455,400,1455,470,1440,480,1382,480,1365,455,1363,400];
const b8RedBody = [298,0,556,0,575,5,575,65,567,78,522,80,530,88,531,117,577,117,577,172,588,175,588,205,610,207,610,267,602,267,602,283,638,283,638,320,684,320,684,385,653,385,653,440,645,460,645,505,637,505,637,515,618,520,618,540,630,545,630,565,656,567,656,585,693,590,693,640,695,702,636,702,636,628,615,628,615,660,585,662,585,685,565,690,565,720,623,693,623,754,647,754,647,815,590,815,585,790,580,825,651,822,651,885,629,885,629,925,638,930,638,990,630,1003,566,1005,566,1043,522,1045,522,1065,534,1073,534,1090,544,1105,577,1105,577,1177,610,1177,610,1238,605,1258,590,1262,600,1285,603,1347,640,1347,642,1375,675,1378,675,1438,632,1445,525,1445,525,1452,427,1452,403,1448,403,1455,345,1455,320,1447,260,1442,258,1425,190,1420,188,1390,170,1390,168,1330,118,1328,118,1268,142,1268,142,1247,105,1245,105,1185,152,1183,157,1120,135,1120,135,1098,83,1098,83,1082,7,1083,7,1022,30,1018,30,968,45,945,0,940,0,785,33,785,33,760,24,735,0,728,0,606,33,606,33,660,37,650,59,640,87,637,54,633,54,573,130,573,172,550,196,540,160,538,160,478,205,475,205,462,260,462,260,470,335,475,335,428,305,428,305,367,330,360,383,332,345,332,345,355,287,355,287,314,261,314,261,248,259,213,318,213,318,248,360,248,360,235,348,235,348,205,331,205,331,145,357,135,355,108,340,108,340,50,298,50];

// ---------- Panel B: individual squares, centres ----------
const b5Red2 = [43,1506,1459,413,1466,1019,1560,1030,1555,1070,1515,935,1558,780,1495,770,1520,900];
const b6Red2 = [1298,150,1530,817,1548,905,1548,960];
const b7Red2 = [722,170,790,267,800,267,778,337,850,360,850,385,955,388,825,482,915,476,965,556,775,563,812,601,665,593,685,591,991,707,565,703,690,736,730,736,663,873,1083,826,184,527,267,595,95,650,150,642,205,655,240,655,110,665,38,697,115,757,190,752,20,765,0,1040,0,1075,143,1490,641,1482,576,1428,450,1430,1135,568,1163,1065,1130,1118,1254,1090,1329,1153,1392,1127,1400,1168,1346,1235,1405,1045,1427,1060];
const b8Red2 = [612,44,765,60,633,142,700,218,741,265,207,327,20,435,786,505,700,560,759,608,780,647,778,687,694,798,735,952,788,1034,857,1060,804,1104,697,1097,702,1128,650,1312,668,1312,685,1345,103,500,70,538,0,565,0,650,1401,65,1404,92,1205,121,1343,195,1400,197,1425,197,1291,253,1271,292,1234,314,1398,270,1428,273,1395,305,1390,356,1372,385,1422,390,1378,400,1298,448,1295,478,1415,470,1427,485,1292,545,1350,520,1400,520,1420,540,1320,550,1272,603,1325,575,1367,555,1370,672,1357,680,1418,677,1405,735,1343,748,1353,755,1365,832,1325,837,1378,835,1416,962,1189,1003,1394,1046,1377,1097,1395,1080,1272,1096,1144,1150,1158,1172,1240,1177,1420,1135,1367,1178,1290,1228,1345,1245,1425,1253,1365,1260,1427,1300,1385,1300,1045,1275,1110,1290,1097,1345,1221,1399,1295,1407,1360,1360,1420,1375,1390,1420,1355,1420,1420,1420,1372,1427,1345,1390,1385,1385];

// ---------- Frames and labels ----------
const frames = [{x1:40,x2:1497,y1:42,y2:1346},{x1:1112,x2:1258,y1:367,y2:721},{x1:1534,x2:2999,y1:36,y2:1346}];
const panelLabels = [{t:"(A)",x:807,y:152},{t:"(B)",x:2302,y:137}];

// ---------- Helpers ----------
const toPage = (r, p) => { const [x0,y0,w,h] = regions[r]; return {x:x0+p[0]*w/1568, y:y0+p[1]*h/1568}; };
const flat = (r, a) => d3.range(0,a.length,2).map(i => toPage(r,[a[i],a[i+1]]));
const rows = (r, a) => a.flatMap(([y,...xs]) => xs.map(x => toPage(r,[x,y])));
const poly = (r, a, fill) => Plot.line(flat(r,a), {x:"x",y:"y",fill,stroke:"none",curve:"linear-closed",shapeRendering:"crispEdges"});
const dots = (pts, fill, side) => Plot.dot(pts, {x:"x",y:"y",r:side/1.772,symbol:"square",fill,stroke:"none",shapeRendering:"crispEdges"});

const P = 5.8, SP = 4.8, CL = 20, SQ = 26.6;
const marks = [
  // Panel A
  poly("a1",a1Sky,C.sky), poly("a2",a2SkyLow,C.sky),
  dots(rows("a1",a1SkyRows),C.sky,P), dots(rows("a1",a1SkyRows2),C.sky,P), dots(rows("a2",a2SkyRows),C.sky,P),
  dots(flat("a3",a3S3),C.sky,SP), dots(flat("a4",a4S3),C.sky,SP),
  poly("a2",a2GreenRight,C.sea), poly("a2",a2GreenMid,C.sea), poly("a2",a2GreenLeft,C.sea), poly("a2",a2GreenTop,C.sea),
  dots(rows("a1",a1GreenRows),C.sea,P), dots(rows("a2",a2GreenRows),C.sea,P), dots(rows("a2",a2GreenRows2),C.sea,P),
  dots(flat("a3",a3S1),C.sea,SP), dots(flat("a4",a4S1),C.sea,SP),
  poly("a1",a1Orange,C.orange), poly("a1",a1OrangeBand,C.orange), poly("a2",a2OrangeLow,C.orange),
  dots(flat("a1",a1OrangeFringe),C.orange,P), dots(rows("a1",a1OrangeRows),C.orange,P), dots(rows("a1",a1OrangeRows2),C.orange,P), dots(rows("a2",a2OrangeRows),C.orange,P), dots(rows("a2",a2OrangeRows2),C.orange,P),
  dots(flat("a3",a3S4),C.orange,SP), dots(flat("a3",a3S4Right),C.orange,5.6), dots(flat("a3",a3S4Right2),C.orange,5.6), dots(flat("a4",a4S4),C.orange,SP),
  dots(flat("a1",a1ClumpSky),C.sky,CL), dots(flat("a2",a2ClumpSky),C.sky,CL),
  dots(flat("a1",a1ClumpGreen),C.sea,CL*0.7), dots(flat("a2",a2ClumpGreen),C.sea,CL*0.7),
  dots(flat("a1",a1ClumpOrange),C.orange,CL), dots(flat("a2",a2ClumpOrange),C.orange,CL),
  dots(flat("a3",a3S0),C.red,SP), dots(flat("a4",a4S0),C.red,SP),
  dots(flat("a3",a3S2),C.navy,SP), dots(flat("a3",a3S5),C.purple,SP), dots(flat("a4",a4S5),C.purple,SP),
  // Panel B
  poly("b5",b5Red,C.red), poly("b6",b6Red,C.red), poly("b7",b7RedTop,C.red), poly("b7",b7RedBody,C.red), poly("b7",b7RedRight,C.red), poly("b8",b8RedBody,C.red),
  dots(flat("b5",b5Red2),C.red,SQ), dots(flat("b6",b6Red2),C.red,SQ), dots(flat("b7",b7Red2),C.red,SQ), dots(flat("b8",b8Red2),C.red,SQ),
  poly("b5",b5Green,C.dgreen), poly("b5",b5Cyan,C.cyan), poly("b5",b5Blue,C.blue), poly("b5",b5Purple,C.purple),
  poly("b6",b6Orange,C.orange), poly("b6",b6OrangeSmall,C.orange), poly("b6",b6Cyan,C.cyan), poly("b6",b6Green,C.dgreen), poly("b6",b6Blue,C.blue),
  poly("b7",b7Green1,C.dgreen), poly("b7",b7Green2,C.dgreen),
  // Frames and text
  Plot.rect(frames,{x1:"x1",x2:"x2",y1:"y1",y2:"y2",fill:"none",stroke:"black",strokeWidth:4}),
  Plot.text(panelLabels,{x:"x",y:"y",text:"t",fontFamily:"Lato",fontSize:97,textAnchor:"middle",lineAnchor:"bottom",fill:"black"}),
  Plot.text(seriesA.map((s,i)=>({s,y:legendY[i],c:colorsA[i]})),{x:()=>1188,y:"y",text:"s",fill:"c",fontFamily:"Liberation Sans",fontSize:42,textAnchor:"start",lineAnchor:"bottom"})
];

const chart = Plot.plot({
  width:3026, height:1375, margin:0,
  x:{domain:[0,3026],range:[0,3026],axis:null},
  y:{domain:[0,1375],range:[0,1375],axis:null},
  color:{type:"identity"},
  style:{background:"white",overflow:"hidden"},
  marks
});
document.getElementById("chart").appendChild(chart);
</script></body></html>
